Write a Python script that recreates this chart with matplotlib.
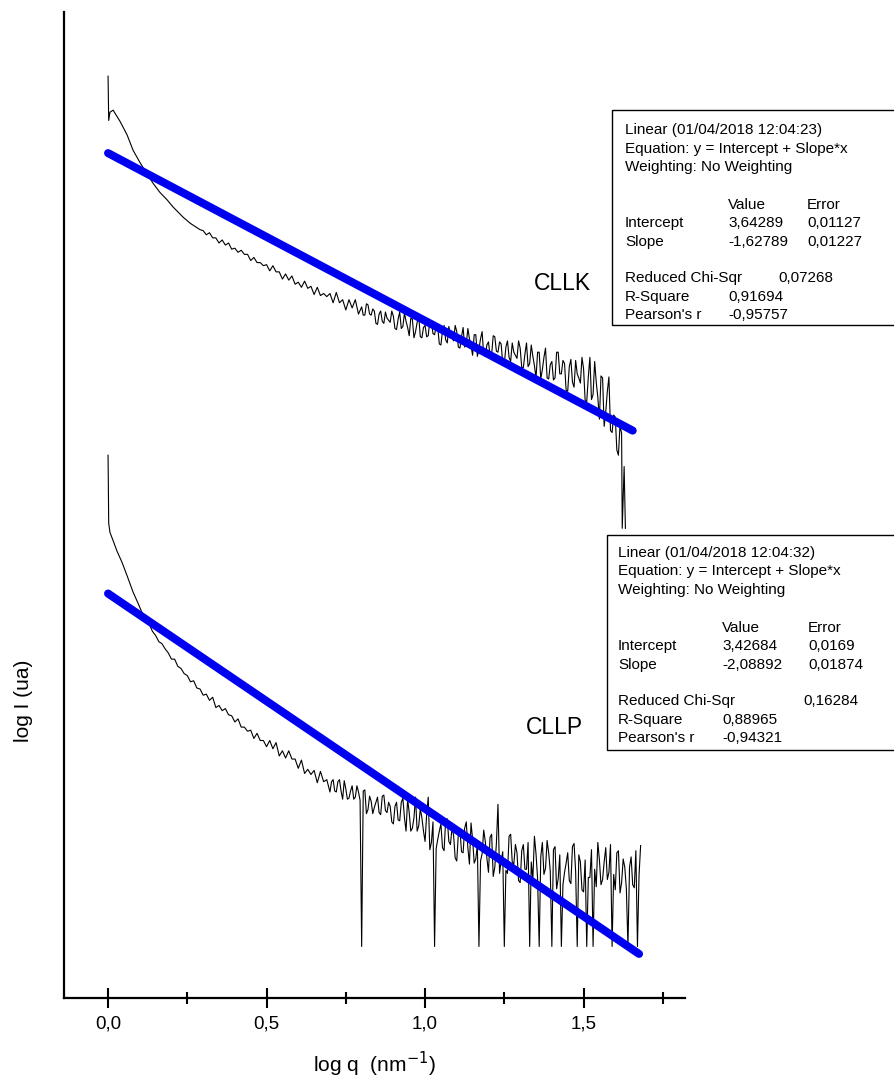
import matplotlib.pyplot as plt
from matplotlib.patches import Rectangle
from matplotlib.ticker import MultipleLocator, FuncFormatter

plt.rcParams['font.family'] = ['Liberation Sans', 'DejaVu Sans']

# CLLK scattering curve (log q, log I)
cllk_q = [
    0.0, 0.002, 0.006, 0.016, 0.038, 0.06, 0.079, 0.101, 0.123, 0.142,
    0.164, 0.186, 0.205, 0.237, 0.26, 0.29,
    0.30, 0.31, 0.32, 0.33, 0.34, 0.35, 0.36, 0.37, 0.38, 0.39,
    0.40, 0.41, 0.42, 0.43, 0.44, 0.45, 0.46, 0.47, 0.48, 0.49,
    0.50, 0.51, 0.52, 0.53, 0.54, 0.55, 0.56, 0.57, 0.58, 0.59,
    0.60, 0.61, 0.62, 0.63, 0.64, 0.65, 0.66, 0.67, 0.68, 0.69,
    0.70, 0.71, 0.72, 0.73, 0.74, 0.75, 0.76, 0.77, 0.78, 0.79,
    0.80, 0.805, 0.81, 0.815, 0.82, 0.825, 0.83, 0.835, 0.84, 0.845,
    0.85, 0.855, 0.86, 0.865, 0.87, 0.875, 0.88, 0.885, 0.89, 0.895,
    0.90, 0.905, 0.91, 0.915, 0.92, 0.925, 0.93, 0.935, 0.94, 0.945,
    0.95, 0.955, 0.96, 0.965, 0.97, 0.975, 0.98, 0.985, 0.99, 0.995,
    1.00, 1.005, 1.01, 1.015, 1.02, 1.025, 1.03, 1.035, 1.04, 1.045,
    1.05, 1.055, 1.06, 1.065, 1.07, 1.075, 1.08, 1.085, 1.09, 1.095,
    1.10, 1.105, 1.11, 1.115, 1.12, 1.125, 1.13, 1.135, 1.14, 1.145,
    1.15, 1.155, 1.16, 1.165, 1.17, 1.175, 1.18, 1.185, 1.19, 1.195,
    1.20, 1.205, 1.21, 1.215, 1.22, 1.225, 1.23, 1.235, 1.24, 1.245,
    1.25, 1.255, 1.26, 1.265, 1.27, 1.275, 1.28, 1.285, 1.29, 1.295,
    1.30, 1.305, 1.31, 1.315, 1.32, 1.325, 1.33, 1.335, 1.34, 1.345,
    1.35, 1.355, 1.36, 1.365, 1.37, 1.375, 1.38, 1.385, 1.39, 1.395,
    1.40, 1.405, 1.41, 1.415, 1.42, 1.425, 1.43, 1.435, 1.44, 1.445,
    1.45, 1.455, 1.46, 1.465, 1.47, 1.475, 1.48, 1.485, 1.49, 1.495,
    1.50, 1.505, 1.51, 1.515, 1.52, 1.525, 1.53, 1.535, 1.54, 1.545,
    1.55, 1.555, 1.56, 1.565, 1.57, 1.575, 1.58, 1.585, 1.59, 1.595,
    1.60, 1.605, 1.61, 1.615, 1.62, 1.622, 1.628, 1.632,
]
cllk_logI = [
    4.39, 3.96, 4.04, 4.06, 3.95, 3.82, 3.67, 3.55, 3.44, 3.35,
    3.26, 3.19, 3.12, 3.02, 2.96, 2.90,
    2.89, 2.85, 2.87, 2.82, 2.82, 2.77, 2.80, 2.75, 2.77, 2.71,
    2.72, 2.68, 2.70, 2.66, 2.66, 2.60, 2.63, 2.58, 2.58, 2.55,
    2.56, 2.50, 2.55, 2.49, 2.49, 2.42, 2.47, 2.41, 2.45, 2.37,
    2.39, 2.34, 2.40, 2.33, 2.35, 2.27, 2.34, 2.26, 2.28, 2.25,
    2.28, 2.19, 2.29, 2.19, 2.22, 2.12, 2.22, 2.14, 2.22, 2.08,
    2.15, 2.07, 2.07, 2.18, 2.17, 2.08, 2.07, 2.13, 2.11, 1.99,
    1.98, 2.08, 2.11, 2.01, 1.99, 2.10, 2.04, 2.02, 2.00, 2.11,
    2.06, 1.94, 1.93, 2.03, 2.10, 1.94, 1.96, 2.09, 2.01, 1.95,
    1.87, 2.04, 2.03, 1.85, 1.91, 2.00, 2.06, 1.86, 1.85, 1.95,
    1.97, 1.86, 1.87, 2.02, 2.01, 1.89, 1.88, 1.96, 1.95, 1.79,
    1.78, 1.92, 1.97, 1.83, 1.80, 1.96, 1.88, 1.85, 1.82, 1.97,
    1.91, 1.76, 1.75, 1.86, 1.95, 1.76, 1.79, 1.94, 1.84, 1.77,
    1.68, 1.88, 1.88, 1.67, 1.74, 1.84, 1.91, 1.68, 1.67, 1.78,
    1.81, 1.68, 1.69, 1.87, 1.86, 1.72, 1.71, 1.81, 1.79, 1.60,
    1.60, 1.76, 1.82, 1.66, 1.62, 1.80, 1.71, 1.68, 1.65, 1.82,
    1.75, 1.56, 1.56, 1.69, 1.80, 1.57, 1.60, 1.78, 1.67, 1.58,
    1.46, 1.71, 1.71, 1.45, 1.54, 1.66, 1.75, 1.46, 1.45, 1.59,
    1.62, 1.44, 1.46, 1.71, 1.71, 1.50, 1.50, 1.63, 1.60, 1.34,
    1.33, 1.57, 1.64, 1.42, 1.37, 1.63, 1.50, 1.46, 1.41, 1.66,
    1.55, 1.24, 1.23, 1.47, 1.66, 1.25, 1.30, 1.62, 1.42, 1.27,
    1.06, 1.48, 1.46, 0.99, 1.13, 1.33, 1.47, 0.95, 0.93, 1.10,
    1.08, 0.76, 0.71, 1.00, 0.92, 0.00, 0.60, 0.00,
]

# CLLP scattering curve (log q, log I)
cllp_q = [
    0.0, 0.002, 0.006, 0.016, 0.028, 0.044, 0.06, 0.079, 0.095, 0.11,
    0.12, 0.13, 0.14, 0.15, 0.16, 0.17, 0.18, 0.19,
    0.20, 0.21, 0.22, 0.23, 0.24, 0.25, 0.26, 0.27, 0.28, 0.29,
    0.30, 0.31, 0.32, 0.33, 0.34, 0.35, 0.36, 0.37, 0.38, 0.39,
    0.40, 0.41, 0.42, 0.43, 0.44, 0.45, 0.46, 0.47, 0.48, 0.49,
    0.50, 0.51, 0.52, 0.53, 0.54, 0.55, 0.56, 0.57, 0.58, 0.59,
    0.60, 0.61, 0.62, 0.63, 0.64, 0.65, 0.66, 0.67, 0.68, 0.69,
    0.70, 0.705, 0.71, 0.715, 0.72, 0.725, 0.73, 0.735, 0.74, 0.745,
    0.75, 0.755, 0.76, 0.765, 0.77, 0.775, 0.78, 0.785, 0.79, 0.795,
    0.80, 0.805, 0.81, 0.815, 0.82, 0.825, 0.83, 0.835, 0.84, 0.845,
    0.85, 0.855, 0.86, 0.865, 0.87, 0.875, 0.88, 0.885, 0.89, 0.895,
    0.90, 0.905, 0.91, 0.915, 0.92, 0.925, 0.93, 0.935, 0.94, 0.945,
    0.95, 0.955, 0.96, 0.965, 0.97, 0.975, 0.98, 0.985, 0.99, 0.995,
    1.00, 1.005, 1.01, 1.015, 1.02, 1.025, 1.03, 1.035, 1.04, 1.045,
    1.05, 1.055, 1.06, 1.065, 1.07, 1.075, 1.08, 1.085, 1.09, 1.095,
    1.10, 1.105, 1.11, 1.115, 1.12, 1.125, 1.13, 1.135, 1.14, 1.145,
    1.15, 1.155, 1.16, 1.165, 1.17, 1.175, 1.18, 1.185, 1.19, 1.195,
    1.20, 1.205, 1.21, 1.215, 1.22, 1.225, 1.23, 1.235, 1.24, 1.245,
    1.25, 1.255, 1.26, 1.265, 1.27, 1.275, 1.28, 1.285, 1.29, 1.295,
    1.30, 1.305, 1.31, 1.315, 1.32, 1.325, 1.33, 1.335, 1.34, 1.345,
    1.35, 1.355, 1.36, 1.365, 1.37, 1.375, 1.38, 1.385, 1.39, 1.395,
    1.40, 1.405, 1.41, 1.415, 1.42, 1.425, 1.43, 1.435, 1.44, 1.445,
    1.45, 1.455, 1.46, 1.465, 1.47, 1.475, 1.48, 1.485, 1.49, 1.495,
    1.50, 1.505, 1.51, 1.515, 1.52, 1.525, 1.53, 1.535, 1.54, 1.545,
    1.55, 1.555, 1.56, 1.565, 1.57, 1.575, 1.58, 1.585, 1.59, 1.595,
    1.60, 1.605, 1.61, 1.615, 1.62, 1.625, 1.63, 1.635, 1.64, 1.645,
    1.65, 1.655, 1.66, 1.665, 1.67, 1.675, 1.68,
]
cllp_logI = [
    4.77, 4.11, 4.02, 3.94, 3.84, 3.73, 3.60, 3.44, 3.33, 3.22,
    3.17, 3.13, 3.06, 3.02, 2.96, 2.94, 2.89, 2.85,
    2.79, 2.79, 2.72, 2.70, 2.65, 2.63, 2.57, 2.58, 2.51, 2.50,
    2.44, 2.45, 2.39, 2.42, 2.32, 2.34, 2.29, 2.31, 2.25, 2.24,
    2.18, 2.21, 2.13, 2.13, 2.09, 2.10, 2.02, 2.07, 2.00, 2.00,
    1.94, 2.00, 1.92, 1.98, 1.85, 1.90, 1.83, 1.90, 1.82, 1.82,
    1.73, 1.81, 1.68, 1.72, 1.67, 1.71, 1.59, 1.70, 1.60, 1.62,
    1.50, 1.60, 1.62, 1.51, 1.50, 1.60, 1.62, 1.51, 1.43, 1.61,
    1.53, 1.43, 1.44, 1.51, 1.56, 1.43, 1.45, 1.56, 1.50, 1.42,
    0.00, 1.51, 1.52, 1.29, 1.33, 1.46, 1.41, 1.29, 1.35, 1.40,
    1.45, 1.30, 1.28, 1.46, 1.47, 1.32, 1.30, 1.40, 1.36, 1.21,
    1.19, 1.36, 1.40, 1.23, 1.22, 1.40, 1.44, 1.25, 1.12, 1.43,
    1.30, 1.12, 1.15, 1.25, 1.45, 1.12, 1.17, 1.34, 1.25, 1.12,
    1.02, 1.28, 1.45, 0.94, 1.01, 1.21, 0.00, 0.95, 1.04, 1.12,
    1.19, 0.96, 0.93, 1.23, 1.24, 1.02, 0.99, 1.15, 1.08, 0.86,
    0.83, 1.09, 1.14, 0.92, 0.91, 1.15, 1.21, 0.96, 0.80, 1.20,
    1.04, 0.81, 0.85, 0.99, 0.00, 0.83, 0.90, 1.13, 1.02, 0.86,
    0.72, 1.06, 1.09, 0.68, 0.77, 1.00, 1.38, 0.71, 0.83, 0.92,
    0.00, 0.74, 0.71, 1.07, 1.09, 0.82, 0.80, 0.99, 0.91, 0.64,
    0.62, 0.93, 0.99, 0.75, 0.75, 1.01, 0.00, 0.82, 0.65, 1.07,
    0.90, 0.66, 0.00, 0.87, 1.01, 0.70, 0.76, 1.03, 0.91, 0.73,
    0.00, 0.94, 0.97, 0.56, 0.66, 0.89, 0.00, 0.60, 0.72, 0.81,
    0.91, 0.64, 0.61, 0.97, 1.00, 0.73, 0.00, 0.89, 0.82, 0.55,
    0.53, 0.84, 0.00, 0.67, 0.67, 0.94, 0.00, 0.75, 0.58, 1.01,
    0.84, 0.60, 0.65, 0.82, 0.96, 0.65, 0.72, 0.99, 0.00, 0.70,
    0.55, 0.91, 0.93, 0.52, 0.62, 0.85, 0.77, 0.56, 0.00, 0.77,
    0.87, 0.60, 0.57, 0.93, 0.00, 0.69, 0.98,
]

# linear fits (values from the result boxes)
sample_names = ['CLLK', 'CLLP']
fit_stamp = ['01/04/2018 12:04:23', '01/04/2018 12:04:32']
fit_intercept = [3.64289, 3.42684]
fit_slope = [-1.62789, -2.08892]
fit_intercept_err = ['0,01127', '0,0169']
fit_slope_err = ['0,01227', '0,01874']
fit_chi_sqr = ['0,07268', '0,16284']
fit_r_square = ['0,91694', '0,88965']
fit_pearson = ['-0,95757', '-0,94321']
fit_q_range = [[0.0, 1.655], [0.0, 1.675]]

# vertical offset (log units) used to stack the two curves
stack_shift = [4.56, 0.50]

W, H = 894, 1087


def fx(px):
    return px / W


def fy(py):
    return 1 - py / H


def comma(v):
    return f"{v:.5f}".replace('.', ',')


fig = plt.figure(figsize=(W / 100, H / 100), dpi=100)
ax = fig.add_axes([fx(64), fy(998), fx(685) - fx(64), fy(12) - fy(998)])

curves = [(cllk_q, cllk_logI), (cllp_q, cllp_logI)]
for i, (q, logI) in enumerate(curves):
    ax.plot(q, [v + stack_shift[i] for v in logI], color='black', lw=0.8, zorder=2)
    qq = fit_q_range[i]
    ax.plot(qq, [fit_intercept[i] + fit_slope[i] * v + stack_shift[i] for v in qq],
            color='#0000f0', lw=5.8, solid_capstyle='round', zorder=3)

ax.set_xlim(-0.139, 1.82)
ax.set_ylim(0, 9.573)
for s in ['top', 'right']:
    ax.spines[s].set_visible(False)
for s in ['left', 'bottom']:
    ax.spines[s].set_linewidth(1.6)
ax.set_yticks([])
ax.xaxis.set_major_locator(MultipleLocator(0.5))
ax.xaxis.set_minor_locator(MultipleLocator(0.25))
ax.xaxis.set_major_formatter(FuncFormatter(lambda v, p: f"{v:.1f}".replace('.', ',')))
ax.tick_params(axis='x', which='major', direction='inout', length=15, width=1.5,
               labelsize=13.5, pad=5)
ax.tick_params(axis='x', which='minor', direction='inout', length=9, width=1.5)

ax.set_xlabel('log q  (nm$^{-1}$)', fontsize=15)
ax.xaxis.set_label_coords(0.5, -0.053)
ax.set_ylabel('log I (ua)', fontsize=15)
ax.yaxis.set_label_coords(-0.05, 0.301)

# result boxes, placed in pixels
box_left = [612, 607]
box_top = [110, 535]
box_bottom = [325, 750]
text_x = [625, 618]
val_x = [728, 722]
err_x = [807, 808]
chi_x = [778, 803]
first_row = [130, 553]
row_off = [0, 18.5, 37, 75, 93, 112, 148, 167, 185]
label_pos = [(562, 284), (554, 728)]

for i in range(2):
    fig.add_artist(Rectangle((fx(box_left[i]), fy(box_bottom[i])),
                             fx(W + 20) - fx(box_left[i]), fy(box_top[i]) - fy(box_bottom[i]),
                             transform=fig.transFigure, facecolor='white',
                             edgecolor='black', lw=1.0, zorder=5))
    r = [first_row[i] + o for o in row_off]
    items = [
        (text_x[i], r[0], f"Linear ({fit_stamp[i]})"),
        (text_x[i], r[1], "Equation: y = Intercept + Slope*x"),
        (text_x[i], r[2], "Weighting: No Weighting"),
        (val_x[i], r[3], "Value"),
        (err_x[i], r[3], "Error"),
        (text_x[i], r[4], "Intercept"),
        (val_x[i], r[4], comma(fit_intercept[i])),
        (err_x[i], r[4], fit_intercept_err[i]),
        (text_x[i], r[5], "Slope"),
        (val_x[i], r[5], comma(fit_slope[i])),
        (err_x[i], r[5], fit_slope_err[i]),
        (text_x[i], r[6], "Reduced Chi-Sqr"),
        (chi_x[i], r[6], fit_chi_sqr[i]),
        (text_x[i], r[7], "R-Square"),
        (val_x[i], r[7], fit_r_square[i]),
        (text_x[i], r[8], "Pearson's r"),
        (val_x[i], r[8], fit_pearson[i]),
    ]
    for px, py, t in items:
        fig.text(fx(px), fy(py), t, fontsize=11, ha='left', va='center', zorder=6)
    lx, ly = label_pos[i]
    fig.text(fx(lx), fy(ly), sample_names[i], fontsize=16.5, ha='center', va='center')

fig.savefig('out.png', dpi=100)
